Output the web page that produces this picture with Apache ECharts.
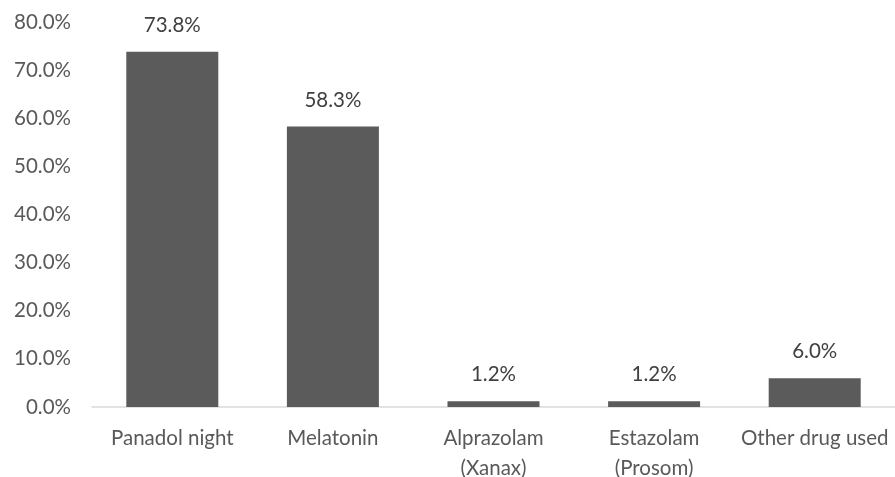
<!DOCTYPE html>
<html><head><meta charset="utf-8">
<script src="https://cdn.jsdelivr.net/npm/echarts@6/dist/echarts.min.js"></script>
<style>html,body{margin:0;padding:0;background:#fff;overflow:hidden}#c{width:895px;height:477px}</style>
</head><body><div id="c"></div>
<script>
const categories = ['Panadol night', 'Melatonin', 'Alprazolam\n(Xanax)', 'Estazolam\n(Prosom)', 'Other drug used'];
const values = [73.8, 58.3, 1.2, 1.2, 6.0];
const yTicks = [0, 10, 20, 30, 40, 50, 60, 70, 80];

const font = 'Lato, "Open Sans", sans-serif';
const chart = echarts.init(document.getElementById('c'));
chart.setOption({
  animation: false,
  grid: {left: 92, right: 0, top: 22, bottom: 70, containLabel: false, outerBoundsMode: 'none'},
  xAxis: {
    type: 'category', data: categories,
    axisLine: {lineStyle: {color: '#d9d9d9', width: 1.5}},
    axisTick: {show: false},
    axisLabel: {color: '#595959', fontSize: 20.5, fontFamily: font, margin: 16, lineHeight: 30, interval: 0}
  },
  yAxis: {
    type: 'value', min: yTicks[0], max: yTicks[yTicks.length - 1], interval: 10,
    axisLine: {show: false}, axisTick: {show: false}, splitLine: {show: false},
    axisLabel: {color: '#595959', fontSize: 20.5, fontFamily: font, margin: 21,
      formatter: v => v.toFixed(1) + '%'}
  },
  series: [{
    type: 'bar', data: values, barWidth: 92,
    itemStyle: {color: '#5b5b5b'},
    label: {show: true, position: 'top', distance: 16, color: '#404040', fontSize: 20.5, fontFamily: font,
      formatter: p => p.value.toFixed(1) + '%'}
  }]
});
</script></body></html>
